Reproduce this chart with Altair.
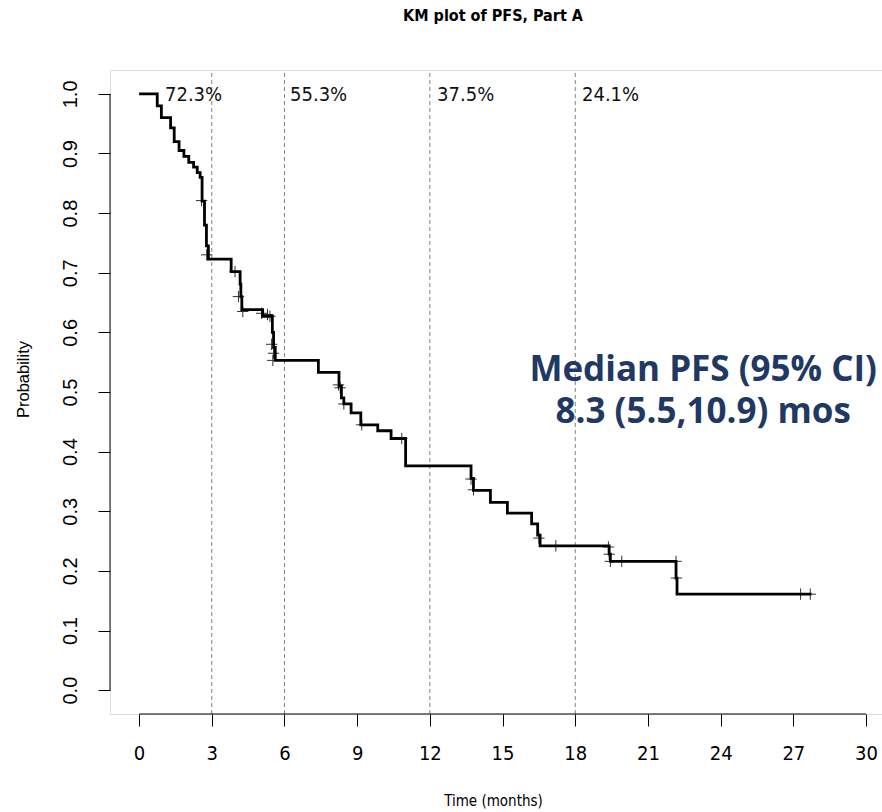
import altair as alt
import pandas as pd

# Kaplan-Meier step curve (time in months, survival probability after each step)
km_time = [0, 0.75, 0.92, 1.30, 1.45, 1.65, 1.85, 2.05, 2.25, 2.40, 2.52, 2.60, 2.70, 2.78, 2.86,
           3.80, 4.17, 4.20, 4.24, 5.10, 5.50, 5.55, 5.62, 7.40, 8.25, 8.35, 8.45, 8.75, 9.15,
           9.85, 10.40, 11.00, 13.70, 13.80, 14.50, 15.20, 16.20, 16.45, 16.55, 19.40, 19.45,
           22.16, 22.20, 27.75]
km_surv = [1.0, 0.980, 0.960, 0.943, 0.920, 0.905, 0.895, 0.885, 0.877, 0.868, 0.860, 0.820, 0.780,
           0.745, 0.723, 0.702, 0.681, 0.660, 0.638, 0.627, 0.600, 0.575, 0.553, 0.533, 0.510,
           0.490, 0.480, 0.465, 0.445, 0.435, 0.422, 0.376, 0.355, 0.335, 0.315, 0.297, 0.279,
           0.260, 0.242, 0.228, 0.216, 0.188, 0.161, 0.161]

# Censoring marks
cens_time = [2.58, 2.79, 3.96, 4.10, 4.28, 5.06, 5.30, 5.40, 5.47, 5.55, 5.52, 8.23, 8.30, 8.45,
             9.19, 10.84, 13.70, 13.80, 16.50, 17.20, 19.37, 19.40, 19.45, 19.92, 22.16, 22.18,
             27.30, 27.70]
cens_surv = [0.821, 0.730, 0.702, 0.660, 0.635, 0.632, 0.630, 0.627, 0.580, 0.565, 0.553, 0.512,
             0.507, 0.480, 0.445, 0.422, 0.354, 0.336, 0.255, 0.242, 0.240, 0.228, 0.216, 0.216,
             0.216, 0.188, 0.161, 0.161]

# Landmark reference lines and their labels
landmark_time = [3, 6, 12, 18]
landmark_label = ["72.3%", "55.3%", "37.5%", "24.1%"]
landmark_label_x = [1.07, 6.23, 12.3, 18.28]
landmark_label_y = [0.998, 0.998, 0.998, 0.998]

# Annotation
annot_text = ["Median PFS (95% CI)", "8.3 (5.5,10.9) mos"]
annot_x = [23.28, 23.28]
annot_y = [0.537, 0.466]

x_ticks = [0, 3, 6, 9, 12, 15, 18, 21, 24, 27, 30]
y_ticks = [0.0, 0.1, 0.2, 0.3, 0.4, 0.5, 0.6, 0.7, 0.8, 0.9, 1.0]

X_DOM = [-1.2, 30.66]
Y_DOM = [-0.04, 1.04]
FONT = "Liberation Sans"
NARROW = "Liberation Sans Narrow, DejaVu Sans Condensed, Liberation Sans"

xs = alt.Scale(domain=X_DOM, nice=False, zero=False)
ys = alt.Scale(domain=Y_DOM, nice=False, zero=False)

km_df = pd.DataFrame({"t": km_time, "s": km_surv})
cens_df = pd.DataFrame({"t": cens_time, "s": cens_surv})
lm_df = pd.DataFrame({"t": landmark_time, "y0": [Y_DOM[0]] * 4, "y1": [Y_DOM[1]] * 4})
lab_df = pd.DataFrame({"t": landmark_label_x, "s": landmark_label_y, "label": landmark_label})
ann_df = pd.DataFrame({"t": annot_x, "s": annot_y, "label": annot_text})
xaxis_df = pd.DataFrame({"x0": [x_ticks[0]], "x1": [x_ticks[-1]], "y": [Y_DOM[0]]})
yaxis_df = pd.DataFrame({"y0": [y_ticks[0]], "y1": [y_ticks[-1]], "x": [X_DOM[0]]})

x_axis = alt.Axis(values=x_ticks, domain=False, grid=False, tickSize=12, tickColor="black",
                  labelFont=NARROW, labelFontSize=20, labelColor="black", labelPadding=17,
                  title="Time (months)", titleFont=NARROW, titleFontSize=15, titleFontWeight="normal",
                  titleColor="black", titleX=383, titleY=91, titleBaseline="alphabetic")
y_axis = alt.Axis(values=y_ticks, format=".1f", domain=False, grid=False, tickSize=12,
                  tickColor="black", labelFont=FONT, labelFontSize=20, labelColor="black",
                  labelAngle=270, labelAlign="center", labelBaseline="bottom", labelPadding=18,
                  title="Probability", titleFont=FONT, titleFontSize=16.5, titleFontWeight="normal",
                  titleColor="black", titleX=-82, titleY=309, titleAngle=270,
                  titleBaseline="alphabetic", titleAlign="center")

base_axes = alt.Chart(xaxis_df).mark_rule(color="black", strokeWidth=1).encode(
    x=alt.X("x0:Q", scale=xs, axis=x_axis), x2="x1:Q",
    y=alt.Y("y:Q", scale=ys, axis=y_axis))

y_line = alt.Chart(yaxis_df).mark_rule(color="black", strokeWidth=1).encode(
    x=alt.X("x:Q", scale=xs), y=alt.Y("y0:Q", scale=ys), y2="y1:Q")

landmarks = alt.Chart(lm_df).mark_rule(color="#808080", strokeWidth=1, strokeDash=[4, 3]).encode(
    x=alt.X("t:Q", scale=xs), y=alt.Y("y0:Q", scale=ys), y2="y1:Q")

curve = alt.Chart(km_df).mark_line(interpolate="step-after", color="black", strokeWidth=2.8).encode(
    x=alt.X("t:Q", scale=xs), y=alt.Y("s:Q", scale=ys))

cens = alt.Chart(cens_df).mark_point(shape="M-1,0L1,0M0,-1L0,1", filled=False, color="black",
                                     strokeWidth=1, size=130, opacity=0.8).encode(
    x=alt.X("t:Q", scale=xs), y=alt.Y("s:Q", scale=ys))

labels = alt.Chart(lab_df).mark_text(align="left", baseline="middle", font=NARROW, fontSize=20,
                                     color="#111111").encode(
    x=alt.X("t:Q", scale=xs), y=alt.Y("s:Q", scale=ys), text="label:N")

annot = alt.Chart(ann_df).mark_text(align="center", baseline="middle", font="Open Sans",
                                    fontSize=35, fontWeight="bold", color="#1F3864").encode(
    x=alt.X("t:Q", scale=xs), y=alt.Y("s:Q", scale=ys), text="label:N")

chart = alt.layer(landmarks, base_axes, y_line, curve, cens, labels, annot).properties(
    width=772, height=644,
    padding={"left": 110, "top": 70, "right": 0, "bottom": 98},
    autosize=alt.AutoSizeParams(type="none"),
    title=alt.TitleParams("KM plot of PFS, Part A", font=NARROW, fontSize=16, fontWeight="bold",
                          color="black", anchor="middle", frame="group", dx=-3, offset=46),
).configure_view(stroke=None).configure(background="white")

chart.save("out.html", embed_options={"renderer": "svg", "actions": False})
